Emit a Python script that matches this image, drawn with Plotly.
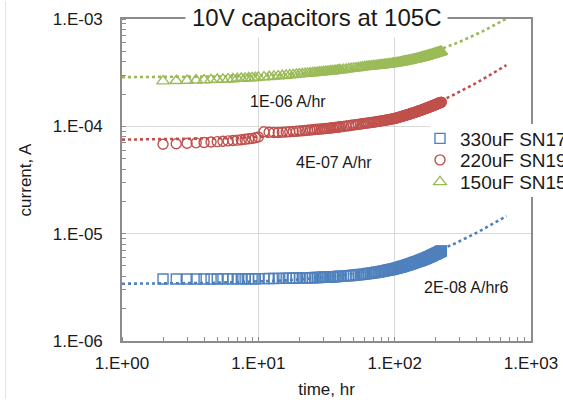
import numpy as np
import plotly.graph_objects as go

# ---------------- data ----------------
time_hr = ([2, 2.5, 3, 3.5, 4, 4.5, 5, 5.5, 6, 6.5, 7, 7.5, 8, 8.5, 9, 9.5, 10]
           + [11, 12, 13, 14, 15, 16, 17, 18, 19, 20, 21, 22, 23, 24, 25, 26, 27, 28, 29, 30,
              31, 32, 33, 34, 35, 36, 37, 38, 39, 40]
           + [42, 44, 46, 48, 50, 52, 54, 56, 58, 60,
              62, 64, 66, 68, 70, 72, 74, 76, 78, 80, 82, 84, 86, 88, 90, 92, 94, 96, 98, 100,
              102, 104, 106, 108, 110, 112, 114, 116, 118, 120, 122, 124, 126, 128, 130,
              132, 134, 136, 138, 140, 142, 144, 146, 148, 150,
              152, 154, 156, 158, 160, 162, 164, 166, 168, 170, 172, 174, 176, 178, 180,
              182, 184, 186, 188, 190, 192, 194, 196, 198, 200, 202, 204, 206, 208, 210,
              212, 214, 216, 218, 220])

# currents in microamps
cur_330uF_uA = ([3.78, 3.78, 3.78, 3.78, 3.78, 3.78, 3.78, 3.79, 3.79, 3.79, 3.79, 3.79, 3.80, 3.80, 3.80, 3.80, 3.81]
                + [3.81, 3.82, 3.82, 3.83, 3.83, 3.84, 3.84, 3.85, 3.86, 3.86, 3.87, 3.87, 3.88, 3.89, 3.89, 3.90, 3.91, 3.91, 3.92, 3.93,
                   3.93, 3.94, 3.95, 3.96, 3.96, 3.97, 3.98, 3.99, 4.00, 4.01]
                + [4.02, 4.04, 4.06, 4.08, 4.10, 4.12, 4.14, 4.16, 4.18, 4.20,
                   4.22, 4.25, 4.27, 4.30, 4.32, 4.35, 4.37, 4.40, 4.42, 4.45, 4.48, 4.50, 4.53, 4.56, 4.58, 4.61, 4.64, 4.66, 4.69, 4.72,
                   4.75, 4.78, 4.82, 4.85, 4.88, 4.91, 4.95, 4.98, 5.01, 5.04, 5.08, 5.11, 5.15, 5.18, 5.22,
                   5.25, 5.29, 5.32, 5.36, 5.40, 5.43, 5.46, 5.49, 5.52, 5.55,
                   5.59, 5.62, 5.66, 5.69, 5.73, 5.77, 5.80, 5.84, 5.87, 5.91, 5.95, 5.98, 6.02, 6.06, 6.10,
                   6.14, 6.18, 6.22, 6.26, 6.30, 6.34, 6.38, 6.42, 6.46, 6.50, 6.54, 6.58, 6.62, 6.66, 6.70,
                   6.74, 6.78, 6.82, 6.86, 6.90])

cur_220uF_uA = ([68.0, 68.8, 69.5, 70.2, 70.8, 71.4, 72.0, 72.6, 73.2, 73.8, 74.4, 75.0, 75.7, 76.5, 77.3, 78.2, 79.5]
                + [89.0, 88.0, 87.5, 87.5, 88.0, 88.5, 89.0, 89.5, 90.0, 90.5, 91.0, 91.5, 92.0, 92.5, 93.0, 93.4, 93.8, 94.2, 94.6, 95.0,
                   95.4, 95.8, 96.2, 96.6, 97.0, 97.4, 97.8, 98.2, 98.6, 99.0]
                + [99.8, 100.6, 101.4, 102.2, 103.0, 103.7, 104.4, 105.1, 105.8, 106.5,
                   107.1, 107.7, 108.3, 108.9, 109.5, 110.1, 110.7, 111.3, 111.9, 112.5,
                   113.1, 113.7, 114.3, 114.9, 115.5, 116.1, 116.7, 117.3, 117.9, 118.5,
                   119.3, 120.1, 120.9, 121.8, 122.6, 123.4, 124.2, 125.1, 125.9, 126.7, 127.5, 128.3, 129.2, 130.0, 130.8,
                   131.6, 132.4, 133.3, 134.1, 134.9, 135.7, 136.6, 137.4, 138.2, 139.0,
                   139.8, 140.7, 141.5, 142.3, 143.1, 144.0, 144.8, 145.6, 146.5, 147.3, 148.1, 149.0, 149.8, 150.6, 151.4,
                   152.3, 153.1, 153.9, 154.8, 155.6, 156.4, 157.3, 158.1, 158.9, 159.7, 160.6, 161.4, 162.2, 163.1, 163.9,
                   164.7, 165.5, 166.4, 167.2, 168.0])

cur_150uF_uA = ([264, 266, 267, 269, 270, 271, 273, 274, 275, 276, 278, 279, 280, 282, 283, 284, 286]
                + [288, 290, 292, 294, 296, 298, 300, 302, 305, 307, 308, 310, 311, 313, 314, 316, 317, 319, 320, 322,
                   323, 324, 325, 327, 328, 329, 331, 332, 334, 335]
                + [337, 340, 342, 345, 347, 349, 351, 353, 356, 358,
                   359, 361, 362, 364, 365, 366, 368, 369, 371, 372, 373, 375, 376, 378, 379, 380, 382, 383, 385, 386,
                   388, 390, 391, 393, 395, 397, 398, 400, 402, 404, 405, 407, 409, 411, 412,
                   414, 416, 418, 419, 421, 423, 425, 426, 428, 430,
                   432, 434, 436, 438, 440, 441, 443, 445, 447, 449, 451, 453, 455, 457, 459,
                   461, 463, 464, 466, 468, 470, 472, 474, 476, 478, 480, 482, 484, 486, 487,
                   489, 491, 493, 495, 497])

series_names = ["330uF SN17", "220uF SN19", "150uF SN15"]
series_colors = ["#4F81BD", "#C0504D", "#9BBB59"]
series_symbols = ["square-open", "circle-open", "triangle-up-open"]
series_sizes = [10, 10, 11]

# linear trendlines (Excel-style, current = a + b*t), forecast range in hours
trend_intercept_A = [3.4e-6, 7.47e-5, 2.86e-4]
trend_slope_A_per_hr = [1.7e-8, 4.5e-7, 1.09e-6]
trend_range_hr = [1, 660]
trend_labels = ["2E-08 A/hr6", "4E-07 A/hr", "1E-06 A/hr"]

x_tickvals = [1, 10, 100, 1000]
x_ticktext = ["1.E+00", "1.E+01", "1.E+02", "1.E+03"]
y_tickvals = [1e-6, 1e-5, 1e-4, 1e-3]
y_ticktext = ["1.E-06", "1.E-05", "1.E-04", "1.E-03"]

assert len(time_hr) == len(cur_330uF_uA) == len(cur_220uF_uA) == len(cur_150uF_uA)

# ---------------- figure ----------------
FONT = "Liberation Sans, Arial, sans-serif"
TXT = "#1a1a1a"
AXC = "#8C8C8C"
GRID = "#D9D9D9"

t = np.array(time_hr, dtype=float)
currents = [np.array(cur_330uF_uA) * 1e-6,
            np.array(cur_220uF_uA) * 1e-6,
            np.array(cur_150uF_uA) * 1e-6]

fig = go.Figure()

t_tr = np.logspace(np.log10(trend_range_hr[0]), np.log10(trend_range_hr[1]), 300)
for i in range(3):
    fig.add_trace(go.Scatter(
        x=t_tr, y=trend_intercept_A[i] + trend_slope_A_per_hr[i] * t_tr,
        mode="lines", line=dict(color=series_colors[i], width=2.6, dash="dot"),
        showlegend=False, hoverinfo="skip"))

legend_ids = ["legend", "legend2", "legend3"]
for i in range(3):
    fig.add_trace(go.Scatter(
        x=t, y=currents[i], mode="markers", name=series_names[i],
        marker=dict(symbol=series_symbols[i], size=series_sizes[i],
                    color=series_colors[i], line=dict(width=1.4, color=series_colors[i])),
        legend=legend_ids[i]))

# plot area in pixels: x 122..531, y 19..341 of 563x400
W, H = 563, 400
L, R, T, B = 122, 32, 19, 59
pw, ph = W - L - R, H - T - B

def px_x(x):
    return (x - L) / pw

def px_y(y):
    return (H - B - y) / ph

axis_common = dict(type="log", showline=True, linecolor=AXC, linewidth=1.6, mirror=True,
                   showgrid=True, gridcolor=GRID, gridwidth=1, ticks="", zeroline=False,
                   tickfont=dict(family=FONT, size=17, color=TXT),
                   minor=dict(dtick="D1", ticks="inside", ticklen=4, tickwidth=1,
                              tickcolor=AXC, showgrid=False))

fig.update_xaxes(range=[0, 3], tickmode="array", tickvals=x_tickvals, ticktext=x_ticktext,
                 ticklabelstandoff=6,
                 title=dict(text="time, hr", font=dict(family=FONT, size=17, color=TXT), standoff=11),
                 **axis_common)
fig.update_yaxes(range=[-6, -3], tickmode="array", tickvals=y_tickvals, ticktext=y_ticktext,
                 ticklabelstandoff=14,
                 title=dict(text="current, A", font=dict(family=FONT, size=17, color=TXT), standoff=17),
                 **axis_common)

legend_rows_px = [138.5, 160, 182]
legend_common = dict(bgcolor="rgba(0,0,0,0)", borderwidth=0, xanchor="left", yanchor="middle",
                     font=dict(family=FONT, size=19, color=TXT), itemwidth=30,
                     x=px_x(420))
fig.update_layout(
    width=W, height=H,
    margin=dict(l=L, r=R, t=T, b=B, autoexpand=False),
    paper_bgcolor="white", plot_bgcolor="white",
    font=dict(family=FONT, color=TXT),
    legend=dict(y=px_y(legend_rows_px[0]), **legend_common),
    legend2=dict(y=px_y(legend_rows_px[1]), **legend_common),
    legend3=dict(y=px_y(legend_rows_px[2]), **legend_common),
)

# white legend box (covers gridlines / plot border behind the legend)
fig.add_shape(type="rect", xref="paper", yref="paper", layer="above",
              x0=px_x(430), x1=px_x(600), y0=px_y(197), y1=px_y(124),
              fillcolor="white", line=dict(width=0))

# chart title with white box over the plot border
fig.add_annotation(text="10V capacitors at 105C", xref="paper", yref="paper",
                   x=px_x(316), y=px_y(17), xanchor="center", yanchor="middle",
                   showarrow=False, bgcolor="white", borderpad=6,
                   font=dict(family=FONT, size=24, color=TXT))

# trend slope labels
label_pos_px = [(466, 287), (334, 162), (288, 101)]
for lab, (lx, ly) in zip(trend_labels, label_pos_px):
    fig.add_annotation(text=lab, xref="paper", yref="paper", x=px_x(lx), y=px_y(ly),
                       xanchor="center", yanchor="middle", showarrow=False,
                       font=dict(family=FONT, size=16, color=TXT))

# faint chart-area border on the left
fig.add_shape(type="line", xref="paper", yref="paper", x0=px_x(5.5), x1=px_x(5.5),
              y0=px_y(1), y1=px_y(399), line=dict(color="#E3E3E3", width=1))

fig.write_html("out.html")
